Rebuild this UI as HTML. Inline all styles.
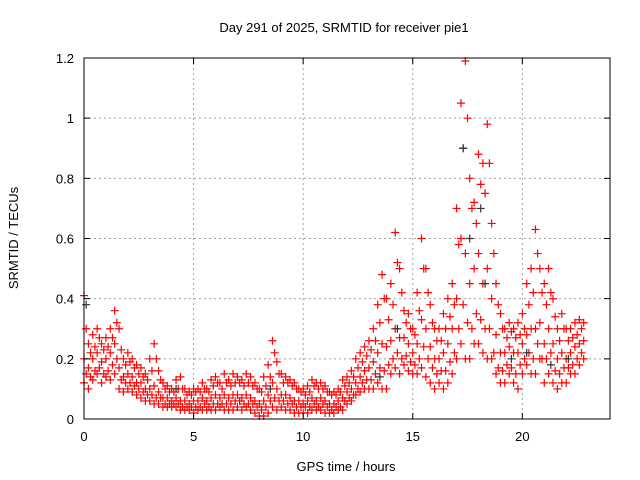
<!DOCTYPE html>
<html><head><meta charset="utf-8"><style>
body{margin:0;background:#fff;}
svg{display:block;font-family:"Liberation Sans",sans-serif;}
</style></head><body>
<svg id="chart" width="640" height="480" viewBox="0 0 640 480">
<text x="344" y="32" font-size="13" text-anchor="middle">Day 291 of 2025, SRMTID for receiver pie1</text>
<text x="346" y="471" font-size="13" text-anchor="middle">GPS time / hours</text>
<text x="18" y="238" font-size="13" text-anchor="middle" transform="rotate(-90 18 238)">SRMTID / TECUs</text>
<g id="grid"></g><g id="marks"></g><g id="axes"></g>
</svg>
<script>
const xTicks=[0,5,10,15,20];
const yTicks=[0,0.2,0.4,0.6,0.8,1,1.2];
const yTickLabels=["0","0.2","0.4","0.6","0.8","1","1.2"];
const hours=[0,0.2,0.4,0.6,0.8,1,1.2,1.4,1.6,1.8,2,2.2,2.4,2.6,2.8,3,3.2,3.4,3.6,3.8,4,4.2,4.4,4.6,4.8,5,5.2,5.4,5.6,5.8,6,6.2,6.4,6.6,6.8,7,7.2,7.4,7.6,7.8,8,8.2,8.4,8.6,8.8,9,9.2,9.4,9.6,9.8,10,10.2,10.4,10.6,10.8,11,11.2,11.4,11.6,11.8,12,12.2,12.4,12.6,12.8,13,13.2,13.4,13.6,13.8,14,14.2,14.4,14.6,14.8,15,15.2,15.4,15.6,15.8,16,16.2,16.4,16.6,16.8,17,17.2,17.4,17.6,17.8,18,18.2,18.4,18.6,18.8,19,19.2,19.4,19.6,19.8,20,20.2,20.4,20.6,20.8,21,21.2,21.4,21.6,21.8,22,22.2,22.4,22.6,22.8];
const lowVals=[.12,.1,.13,.15,.12,.14,.13,.15,.1,.09,.1,.09,.08,.07,.06,.06,.05,.05,.04,.04,.04,.04,.03,.03,.03,.02,.03,.03,.03,.03,.03,.04,.03,.03,.03,.04,.03,.04,.03,.02,.01,.01,.02,.04,.03,.04,.03,.03,.02,.02,.02,.02,.03,.03,.03,.02,.02,.02,.03,.03,.05,.06,.08,.09,.1,.1,.1,.12,.1,.1,.15,.17,.15,.18,.16,.15,.15,.17,.14,.12,.1,.12,.1,.12,.15,.2,.25,.2,.2,.25,.25,.22,.2,.2,.15,.12,.12,.15,.12,.1,.15,.18,.15,.15,.2,.12,.15,.12,.1,.12,.12,.15,.15,.18,.2];
const midVals=[.2,.17,.2,.22,.19,.2,.22,.25,.17,.14,.15,.14,.12,.12,.1,.1,.11,.09,.07,.07,.06,.07,.06,.06,.05,.06,.06,.07,.06,.07,.08,.07,.08,.07,.08,.08,.07,.08,.07,.06,.05,.06,.08,.12,.1,.08,.08,.07,.06,.06,.05,.06,.07,.06,.07,.06,.05,.05,.06,.07,.09,.1,.12,.14,.16,.17,.19,.22,.25,.24,.26,.3,.27,.27,.25,.22,.25,.33,.3,.24,.2,.2,.22,.25,.3,.4,.6,.55,.45,.5,.55,.45,.5,.4,.28,.22,.22,.24,.22,.22,.25,.28,.3,.3,.32,.25,.3,.25,.2,.22,.2,.22,.24,.25,.26];
const highVals=[.41,.25,.28,.3,.25,.27,.3,.36,.3,.2,.22,.2,.18,.17,.15,.2,.25,.16,.12,.11,.1,.13,.14,.1,.09,.1,.1,.12,.1,.13,.14,.12,.15,.13,.15,.14,.13,.15,.14,.12,.1,.14,.18,.26,.19,.15,.14,.13,.12,.1,.1,.11,.13,.12,.12,.11,.09,.09,.1,.13,.14,.16,.2,.22,.24,.26,.3,.38,.48,.4,.45,.62,.5,.36,.35,.3,.42,.6,.5,.38,.3,.3,.35,.4,.45,.7,1.05,1.19,.8,.72,.88,.85,.98,.65,.45,.35,.3,.32,.3,.32,.35,.45,.5,.63,.5,.45,.5,.4,.3,.35,.3,.3,.32,.33,.32];
const hoursB=[0.1,0.3,0.5,0.7,0.9,1.1,1.3,1.5,1.7,1.9,2.1,2.3,2.5,2.7,2.9,3.1,3.3,3.5,3.7,3.9,4.1,4.3,4.5,4.7,4.9,5.1,5.3,5.5,5.7,5.9,6.1,6.3,6.5,6.7,6.9,7.1,7.3,7.5,7.7,7.9,8.1,8.3,8.5,8.7,8.9,9.1,9.3,9.5,9.7,9.9,10.1,10.3,10.5,10.7,10.9,11.1,11.3,11.5,11.7,11.9,12.1,12.3,12.5,12.7,12.9,13.1,13.3,13.5,13.7,13.9,14.1,14.3,14.5,14.7,14.9,15.1,15.3,15.5,15.7,15.9,16.1,16.3,16.5,16.7,16.9,17.1,17.3,17.5,17.7,17.9,18.1,18.3,18.5,18.7,18.9,19.1,19.3,19.5,19.7,19.9,20.1,20.3,20.5,20.7,20.9,21.1,21.3,21.5,21.7,21.9,22.1,22.3,22.5,22.7];
const bLowVals=[.15,.14,.16,.17,.15,.16,.18,.2,.13,.12,.12,.11,.1,.09,.08,.08,.07,.07,.05,.05,.05,.05,.04,.04,.04,.04,.04,.05,.04,.05,.05,.05,.05,.05,.06,.06,.05,.05,.05,.04,.03,.04,.06,.07,.06,.06,.05,.05,.04,.04,.04,.04,.05,.04,.05,.04,.03,.04,.04,.06,.07,.08,.1,.12,.13,.13,.15,.17,.16,.18,.2,.22,.2,.21,.19,.18,.2,.24,.2,.17,.15,.16,.16,.19,.22,.3,.38,.32,.3,.35,.33,.3,.3,.22,.17,.16,.18,.17,.15,.18,.2,.22,.2,.25,.2,.2,.22,.16,.15,.17,.17,.18,.2,.22];
const bHighVals=[.3,.22,.24,.27,.23,.24,.27,.32,.23,.18,.19,.17,.15,.14,.13,.16,.2,.13,.1,.09,.09,.1,.1,.08,.08,.09,.09,.1,.09,.11,.12,.1,.12,.11,.12,.12,.11,.12,.11,.1,.09,.11,.14,.22,.15,.12,.12,.11,.1,.09,.08,.09,.11,.1,.1,.09,.08,.08,.09,.11,.12,.14,.17,.19,.21,.23,.26,.32,.4,.33,.38,.52,.42,.32,.3,.28,.36,.5,.42,.32,.26,.26,.3,.34,.38,.58,.9,1.0,.7,.65,.78,.75,.85,.55,.38,.3,.27,.29,.27,.28,.3,.38,.42,.55,.42,.38,.42,.34,.26,.3,.26,.27,.28,.3];
const blackHours=[0.1,4.2,8.5,13.5,14.3,17.3,17.6,18.1,18.3,19.5,20.2,21.3,22.1];
const blackVals=[0.38,0.1,0.1,0.14,0.3,0.9,0.6,0.7,0.45,0.2,0.22,0.18,0.2];
const L=84,R=610,T=58,B=419,XMAX=24,YMAX=1.2;
const xs=v=>L+v/XMAX*(R-L), ys=v=>B-v/YMAX*(B-T);
const NS="http://www.w3.org/2000/svg";
const grid=document.getElementById('grid'),marks=document.getElementById('marks'),axes=document.getElementById('axes');
function mk(tag,attrs,parent){const e=document.createElementNS(NS,tag);for(const k in attrs)e.setAttribute(k,attrs[k]);parent.appendChild(e);return e;}
xTicks.forEach(t=>{const x=xs(t);
 if(t>0){const g=mk('line',{x1:x,x2:x,y1:T,y2:B,stroke:'#a0a0a0','stroke-dasharray':'2,3'},grid);
 
 }
 const tk=mk('path',{d:`M${x},${B}v-6M${x},${T}v6`,stroke:'#000'},axes);
 
 
 const lb=mk('text',{x:x,y:B+22,'font-size':13,'text-anchor':'middle'},axes);lb.textContent=t;
 
 });
yTicks.forEach((t,i)=>{const y=ys(t);
 if(t>0&&t<YMAX){const g=mk('line',{x1:L,x2:R,y1:y,y2:y,stroke:'#a0a0a0','stroke-dasharray':'2,3'},grid);
 
 }
 const tk=mk('path',{d:`M${L},${y}h6M${R},${y}h-6`,stroke:'#000'},axes);
 
 
 const lb=mk('text',{x:L-10,y:y+5,'font-size':13,'text-anchor':'end'},axes);lb.textContent=yTickLabels[i];
 
 });
const fr=mk('rect',{x:L,y:T,width:R-L,height:B-T,fill:'none',stroke:'#000'},axes);


function plus(h,v,c){if(h===undefined||v===undefined)return;const x=xs(h),y=ys(v);
 const p=mk('path',{d:`M${x-4},${y}h8M${x},${y-4}v8`,stroke:c,'stroke-width':1.2},marks);
 
 }
[lowVals,midVals,highVals].forEach(arr=>arr.forEach((v,i)=>plus(hours[i],v,'#ff0000')));
[bLowVals,bHighVals].forEach(arr=>arr.forEach((v,i)=>plus(hoursB[i],v,'#ff0000')));
blackHours.forEach((h,i)=>plus(h,blackVals[i],'#333'));
</script>
</body></html>
